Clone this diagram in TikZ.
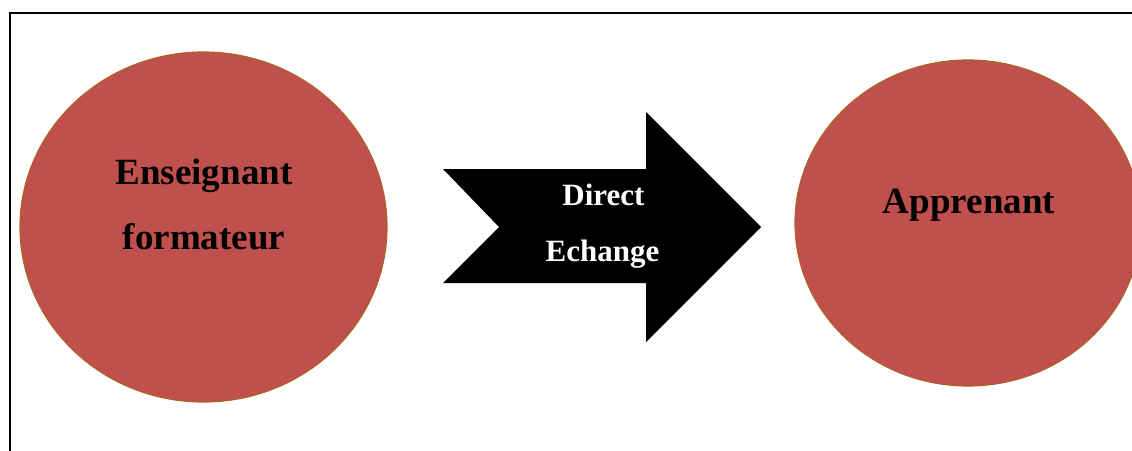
\documentclass[tikz,border=0pt]{standalone}
\usepackage{fontspec}
\setmainfont{Liberation Serif}
\definecolor{blobfill}{HTML}{C0504D}
\definecolor{blobline}{RGB}{172,98,38}
\tikzset{
  blob/.style={fill=blobfill, draw=blobline, line width=1.2pt},
  bigtxt/.style={anchor=base, inner sep=0pt, font=\fontsize{37}{44}\selectfont\bfseries, text=black},
  arrtxt/.style={anchor=base, inner sep=0pt, font=\fontsize{31}{37}\selectfont\bfseries, text=white},
}
\begin{document}
\begin{tikzpicture}[x=1pt,y=-1pt]
\useasboundingbox (0,0) rectangle (1132,450);
\clip (0,0) rectangle (1132,450);
\fill[white] (0,0) rectangle (1132,450);
\draw[line width=2pt] (10,470) -- (10,13) -- (1150,13);
% left circle
\path[blob] (203.5,227) ellipse [x radius=183.5, y radius=175];
\node[bigtxt] (ens) at (204,184) {Enseignant};
\node[bigtxt] (form) at (204,249) {formateur};
% right ellipse
\path[blob] (968,223) ellipse [x radius=173, y radius=163];
\node[bigtxt] (app) at (969,213) {Apprenant};
% notched arrow
\fill[black] (443,169) -- (646,169) -- (646,112) -- (761,227) -- (646,342) -- (646,283) -- (443,283) -- (499,227) -- cycle;
\node[arrtxt] (dir) at (603.5,205) {Direct};
\node[arrtxt] (ech) at (602.5,261) {Echange};
\end{tikzpicture}
\end{document}
